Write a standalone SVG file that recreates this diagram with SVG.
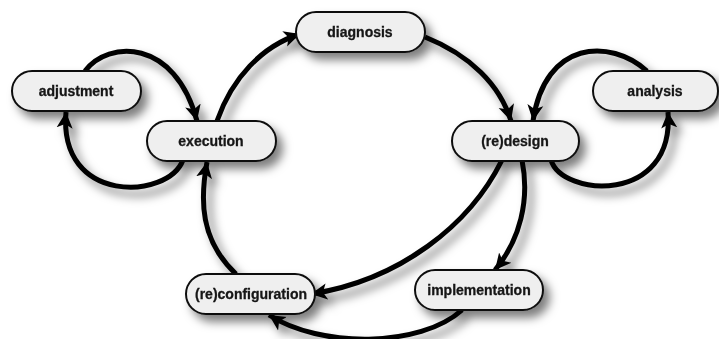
<svg xmlns="http://www.w3.org/2000/svg" width="719" height="339" viewBox="0 0 719 339">
<style>
.node rect{fill:#efefef;stroke:#111;stroke-width:2}
.node text{font-family:"Liberation Sans",Arial,sans-serif;font-weight:bold;font-size:14px;fill:#161616;stroke:#161616;stroke-width:0.3;text-anchor:middle}
.conn path{fill:none;stroke:#000;stroke-width:5;marker-end:url(#arr)}
</style>
<defs>
<filter id="sh" x="-30%" y="-30%" width="170%" height="190%">
<feDropShadow dx="6" dy="7" stdDeviation="5" flood-color="#000" flood-opacity="0.5"/>
</filter>
<marker id="arr" markerUnits="userSpaceOnUse" markerWidth="18" markerHeight="18" viewBox="0 0 18 18" refX="16" refY="9" orient="auto">
<path d="M0,1 L16,9 L0,17 L4,9 z" fill="#000"/>
</marker>
</defs>
<rect width="719" height="339" fill="#fff"/>
<g id="connectors" class="conn" filter="url(#sh)">
<path d="M217,121 C232,78 262,46 300,34"/>
<path d="M425,37 C470,55 500,85 511,121"/>
<path d="M647,71 C610,38 545,40 533,121"/>
<path d="M551,160 C562,197 675,205 668,112"/>
<path d="M85,71 C108,40 175,38 197,121"/>
<path d="M183,160 C168,200 58,205 66,112"/>
<path d="M236,274 C200,240 200,200 207,162"/>
<path d="M502,160 C470,225 400,280 311,294"/>
<path d="M522,160 C530,200 520,240 495,270"/>
<path d="M462,310 C420,348 320,348 269,315"/>
</g>
<g id="n-adjustment" class="node" filter="url(#sh)"><rect x="12" y="71" width="129" height="40" rx="20"/><text x="76" y="96">adjustment</text></g>
<g id="n-execution" class="node" filter="url(#sh)"><rect x="147" y="121" width="129" height="40" rx="20"/><text x="211" y="146">execution</text></g>
<g id="n-diagnosis" class="node" filter="url(#sh)"><rect x="296" y="12" width="129" height="40" rx="20"/><text x="360" y="37">diagnosis</text></g>
<g id="n-redesign" class="node" filter="url(#sh)"><rect x="452" y="121" width="127" height="40" rx="20"/><text x="515" y="146">(re)design</text></g>
<g id="n-analysis" class="node" filter="url(#sh)"><rect x="593" y="71" width="125" height="40" rx="20"/><text x="655" y="96">analysis</text></g>
<g id="n-reconfiguration" class="node" filter="url(#sh)"><rect x="186" y="274" width="129" height="40" rx="20"/><text x="251" y="299">(re)configuration</text></g>
<g id="n-implementation" class="node" filter="url(#sh)"><rect x="415" y="270" width="128" height="40" rx="20"/><text x="479" y="295">implementation</text></g>
</svg>
